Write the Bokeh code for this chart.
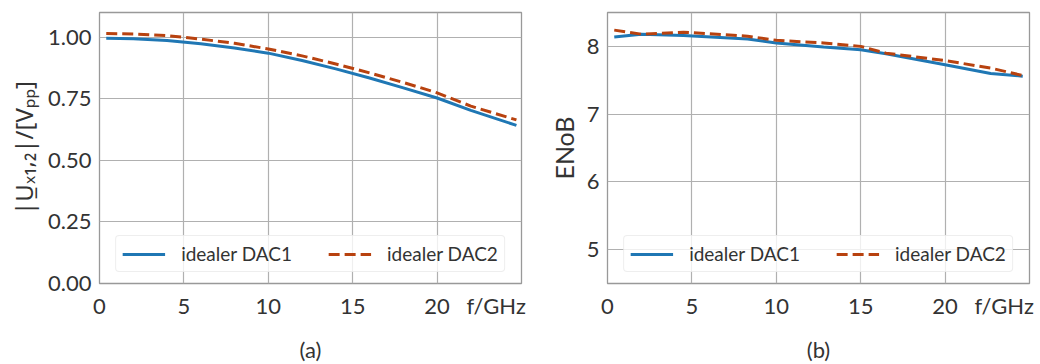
from bokeh.plotting import figure
from bokeh.layouts import row
from bokeh.models import FixedTicker, Legend, LegendItem, Range1d, CustomJSTickFormatter
from bokeh.embed import file_html
from bokeh.resources import INLINE

# ---- data panel (a)
f_a = [0.4, 2, 4, 6, 8, 10, 12, 14, 16, 18, 20, 22, 24.7]
amp_dac1 = [0.995, 0.993, 0.986, 0.973, 0.956, 0.935, 0.905, 0.871, 0.834, 0.794, 0.753, 0.703, 0.642]
amp_dac2 = [1.015, 1.013, 1.006, 0.992, 0.975, 0.952, 0.924, 0.891, 0.855, 0.816, 0.774, 0.72, 0.664]

# ---- data panel (b)
f_b = [0.4, 2, 4.5, 8.3, 10, 12.8, 15, 16.5, 20, 22.7, 24.6]
enob_dac1 = [8.14, 8.18, 8.16, 8.11, 8.05, 7.99, 7.95, 7.89, 7.73, 7.60, 7.56]
enob_dac2 = [8.24, 8.18, 8.21, 8.15, 8.09, 8.05, 8.00, 7.90, 7.79, 7.68, 7.57]

x_ticks = [0, 5, 10, 15, 20]
x_unit_pos = 23.5
x_unit_label = "f/GHz"
y_ticks_a = [0, 0.25, 0.5, 0.75, 1.0]
y_ticks_b = [5, 6, 7, 8]
labels = ["idealer DAC1", "idealer DAC2"]

BLUE = "#1f77b4"
RED = "#b8420f"
FONT = "Lato"
TXT = "#333333"


def make_panel(x, y1, y2, yr, yticks, ylabel, sub, left_border, right_border, ydigits, ylab_size):
    p = figure(frame_width=422, frame_height=271, output_backend="svg", toolbar_location=None,
               x_range=Range1d(0, 25), y_range=Range1d(*yr),
               min_border_left=left_border, min_border_right=right_border,
               min_border_top=12, min_border_bottom=81)
    p.background_fill_color = "white"
    p.border_fill_color = "white"
    p.outline_line_color = "#999999"
    p.outline_line_width = 1.3
    for g in (p.xgrid, p.ygrid):
        g.grid_line_color = "#b0b0b0"
        g.grid_line_width = 1.2
    p.xaxis.ticker = FixedTicker(ticks=x_ticks + [x_unit_pos])
    p.xgrid.ticker = FixedTicker(ticks=x_ticks)
    p.xaxis.major_label_overrides = {x_unit_pos: x_unit_label}
    p.yaxis.ticker = FixedTicker(ticks=yticks)
    p.yaxis.formatter = CustomJSTickFormatter(code="return tick.toFixed(%d);" % ydigits)
    for ax in (p.xaxis, p.yaxis):
        ax.axis_line_color = None
        ax.major_tick_line_color = None
        ax.minor_tick_line_color = None
        ax.major_tick_out = 0
        ax.major_tick_in = 0
        ax.minor_tick_out = 0
        ax.minor_tick_in = 0
        ax.major_label_text_font = FONT
        ax.major_label_text_font_size = "22px"
        ax.major_label_text_color = TXT
        ax.axis_label_text_font = FONT
        ax.axis_label_text_font_size = "22px"
        ax.axis_label_text_font_style = "normal"
        ax.axis_label_text_color = TXT
        ax.major_label_standoff = 8
    p.xaxis.axis_label = sub
    p.xaxis.axis_label_standoff = 14
    p.yaxis.axis_label = ylabel
    p.yaxis.axis_label_standoff = 5
    p.yaxis.axis_label_text_font_size = ylab_size

    r1 = p.line(x, y1, line_color=BLUE, line_width=3)
    r2 = p.line(x, y2, line_color=RED, line_width=3, line_dash="11 5")

    leg = Legend(items=[LegendItem(label=labels[0], renderers=[r1]),
                        LegendItem(label=labels[1], renderers=[r2])],
                 orientation="horizontal", location="bottom_center")
    leg.label_text_font = FONT
    leg.label_text_font_size = "19px"
    leg.label_text_color = TXT
    leg.glyph_width = 43
    leg.glyph_height = 20
    leg.label_height = 20
    leg.label_standoff = 16
    leg.spacing = 36
    leg.padding = 6
    leg.margin = 11
    leg.border_line_color = "#dddddd"
    leg.border_line_width = 1
    leg.background_fill_color = "white"
    leg.background_fill_alpha = 0.8
    try:
        leg.border_radius = 4
    except Exception:
        pass
    p.add_layout(leg, "center")
    return p


pa = make_panel(f_a, amp_dac1, amp_dac2, (0, 1.1), y_ticks_a, "|U̲ₓ₁,₂|/[Vₚₚ]", "(a)", 99, 24, 2, "24px")
pa.yaxis.axis_label_text_font = "Noto Sans"
pb = make_panel(f_b, enob_dac1, enob_dac2, (4.5, 8.5), y_ticks_b, "ENoB", "(b)", 62, 11, 0, "25px")

layout = row(pa, pb)
open("out.html", "w").write(file_html(layout, INLINE))
